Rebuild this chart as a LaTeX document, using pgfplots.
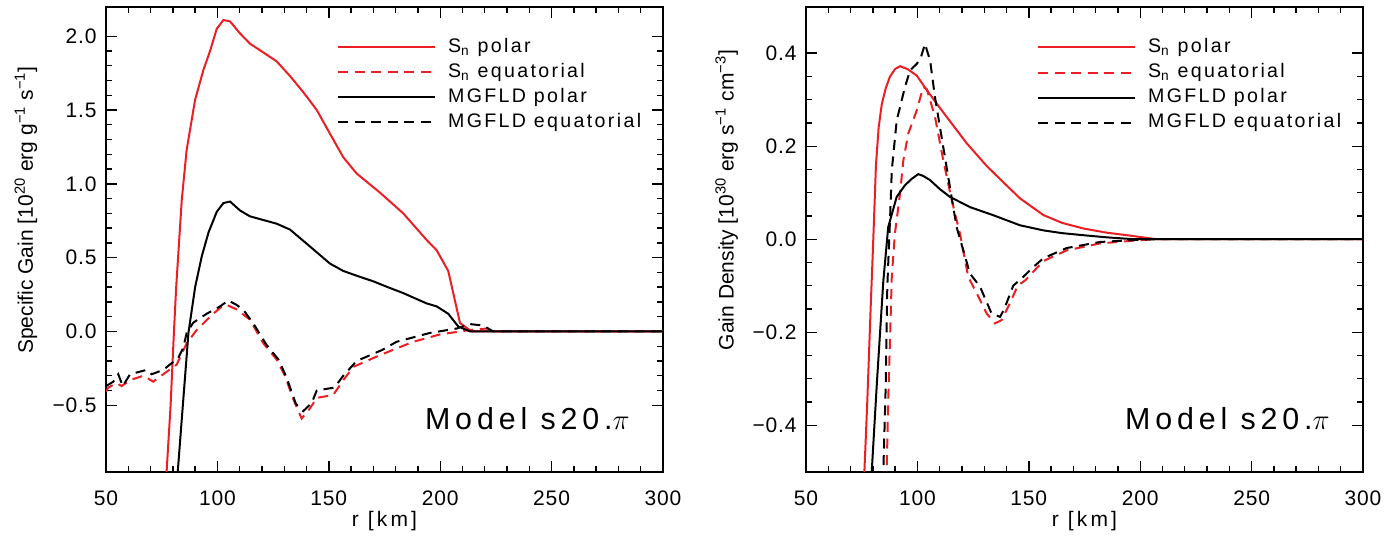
\documentclass[border=0pt]{standalone}
\usepackage{fontspec}
\setmainfont{Liberation Sans}
\newfontfamily\tickfam[LetterSpace=4]{Liberation Sans}
\newfontfamily\widefam[LetterSpace=12]{Liberation Sans}
\newfontfamily\modelfam[LetterSpace=16]{Liberation Sans}
\newfontfamily\xlabfam[LetterSpace=15]{Liberation Sans}
\usepackage{pgfplots}
\pgfplotsset{compat=1.18}
\definecolor{idlred}{RGB}{235,30,36}

\newcommand{\tickfont}{\tickfam\fontsize{10.5}{12}\selectfont}
\newcommand{\legfont}{\widefam\fontsize{9.8}{12}\selectfont}
\newcommand{\Sn}{S\textsubscript{n}}

\pgfplotsset{
  gainpanel/.style={
    scale only axis, width=278.5pt, height=232.5pt,
    anchor=south west,
    xmin=50, xmax=300,
    xtick={50,100,150,200,250,300},
    xticklabels={50,100,150,200,250,300},
    minor x tick num=4,
    tick align=inside, tick pos=both,
    major tick length=5.5pt, minor tick length=3pt,
    axis line style={line width=0.9pt},
    every tick/.style={black, line width=0.7pt},
    ticklabel style={font=\tickfont},
    xticklabel style={yshift=-6pt},
    yticklabel style={xshift=-1.2pt},
    xlabel={r [km]},
    xlabel style={font=\xlabfam\fontsize{10.5}{12}\selectfont,
      at={(rel axis cs:0.5,0)}, anchor=north, yshift=-16.5pt},
    legend style={at={(rel axis cs:0.414,0.94)}, anchor=north west,
      draw=none, fill=none, inner sep=0pt, row sep=0pt, column sep=5pt,
      font=\legfont, nodes={inner sep=1.25pt, text height=7.5pt, text depth=2.5pt}},
    legend cell align=left,
    legend image code/.code={\draw[##1] (0pt,0pt) -- (48.3pt,0pt);},
    every axis plot/.append style={line width=1pt},
  },
  dashedline/.style={dash pattern=on 5pt off 3.3pt},
}

\begin{document}
\begin{tikzpicture}
\path (0pt,0pt) rectangle (698pt,268.5pt);

% left panel: specific gain
\begin{axis}[gainpanel, at={(53pt,32.65pt)},
  ymin=-0.95, ymax=2.2,
  ytick={-0.5,0,0.5,1,1.5,2},
  yticklabels={−0.5,0.0,0.5,1.0,1.5,2.0},
  minor y tick num=4]
\addplot[idlred] coordinates {
 (76.5,-1.15)(77.2,-0.95)(79,-0.5)(80.5,0)(81.5,0.3)(84,0.89)(86.2,1.23)(90,1.57)
 (93.7,1.77)(96.7,1.90)(99.7,2.05)(102.7,2.11)(105.7,2.10)(110.1,2.02)(114.6,1.95)
 (120.6,1.89)(126.6,1.83)(132.6,1.73)(138.6,1.62)(144.6,1.50)(150.5,1.34)(156.5,1.18)
 (162.5,1.07)(173,0.94)(183.4,0.80)(193.9,0.62)(198.4,0.55)(203.6,0.41)(208.9,0.057)
 (214.1,0)(300,0)};
\addlegendentry{\Sn{} polar}
\addplot[idlred, dashedline] coordinates {
 (50,-0.41)(51,-0.38)(54.8,-0.35)(57,-0.37)(60.8,-0.33)(66.7,-0.30)(71.2,-0.34)
 (75.7,-0.29)(81.7,-0.225)(86.2,-0.08)(90.7,0.01)(96.7,0.10)(101.2,0.16)(104.1,0.18)
 (108.6,0.15)(114.6,0.08)(120.6,-0.08)(126.6,-0.19)(130.3,-0.30)(134.1,-0.46)
 (137.8,-0.59)(141.6,-0.52)(144.6,-0.45)(152,-0.43)(156.5,-0.33)(161,-0.24)
 (165.5,-0.21)(173,-0.16)(187.9,-0.07)(199.9,-0.02)(213.4,0.01)(220.9,0.02)
 (223.8,0)(300,0)};
\addlegendentry{\Sn{} equatorial}
\addplot[black] coordinates {
 (81.5,-1.2)(82.2,-0.95)(84.7,-0.46)(87,-0.01)(90,0.30)(93,0.51)(96,0.67)(99.7,0.81)
 (102.7,0.87)(105.7,0.88)(110.1,0.82)(114.6,0.78)(120.6,0.755)(126.6,0.73)(132.6,0.69)
 (141.6,0.575)(150.5,0.46)(156.5,0.41)(163,0.375)(169.9,0.34)(176.5,0.30)(183.4,0.26)
 (193.9,0.19)(198.4,0.17)(203.6,0.12)(208.1,0.034)(213.4,0)(300,0)};
\addlegendentry{MGFLD polar}
\addplot[black, dashedline] coordinates {
 (50,-0.37)(53.3,-0.34)(55.5,-0.29)(57.5,-0.37)(60.8,-0.29)(68.3,-0.26)(70.5,-0.29)
 (75.7,-0.26)(82.4,-0.18)(84.7,-0.11)(86.2,-0.01)(89.2,0.06)(95.2,0.12)(101.2,0.17)
 (104.9,0.21)(108.6,0.18)(111.6,0.147)(116,0.057)(122,-0.09)(127.4,-0.19)(131,-0.31)
 (135.2,-0.49)(138.5,-0.54)(142.3,-0.485)(144.6,-0.40)(152.5,-0.38)(156.5,-0.30)
 (162.5,-0.20)(174,-0.125)(180.4,-0.07)(195.4,-0.01)(207.4,0.02)(213.4,0.05)
 (219.3,0.04)(223.8,0)(300,0)};
\addlegendentry{MGFLD equatorial}
\node[anchor=base east, inner sep=0pt, font=\modelfam\fontsize{15.2}{18}\selectfont]
  at (rel axis cs:0.941,0.0897) {Model s20.$\pi$};
\end{axis}

% right panel: gain density
\begin{axis}[gainpanel, at={(403pt,32.65pt)},
  ymin=-0.5, ymax=0.5,
  ytick={-0.4,-0.2,0,0.2,0.4},
  yticklabels={−0.4,−0.2,0.0,0.2,0.4},
  minor y tick num=3]
\addplot[idlred] coordinates {
 (75.5,-0.7)(76.2,-0.5)(77.5,-0.35)(79,-0.15)(80.2,0)(81.4,0.16)(82.6,0.24)(84,0.29)
 (85.8,0.325)(87.7,0.35)(90,0.366)(92.2,0.372)(95.5,0.366)(99.7,0.352)(104,0.322)
 (110,0.283)(116,0.245)(122,0.207)(131,0.158)(138,0.125)(146,0.088)(156.5,0.052)
 (165,0.035)(174.5,0.023)(185,0.014)(194,0.0086)(207.4,0)(300,0)};
\addlegendentry{\Sn{} polar}
\addplot[idlred, dashedline] coordinates {
 (86,-0.7)(86.2,-0.5)(86.9,-0.346)(87.8,-0.2)(88.5,-0.081)(89.9,0.012)(92.2,0.098)
 (93.7,0.17)(95.9,0.227)(99.7,0.277)(102.6,0.327)(104.2,0.323)(107.9,0.263)(111.6,0.17)
 (115.4,0.084)(119.1,0.012)(122.8,-0.081)(127,-0.12)(131.1,-0.16)(134.8,-0.181)
 (137.8,-0.174)(141.8,-0.135)(145,-0.1)(148.5,-0.088)(152,-0.07)(156.5,-0.047)
 (167,-0.024)(182,-0.009)(200,-0.002)(207.4,0)(300,0)};
\addlegendentry{\Sn{} equatorial}
\addplot[black] coordinates {
 (79,-0.7)(79.5,-0.5)(81.8,-0.31)(84.7,-0.09)(86.9,0.026)(90.7,0.091)(94.4,0.116)
 (97.5,0.13)(100.4,0.14)(102.6,0.136)(105.7,0.127)(110,0.108)(114.6,0.091)(123.6,0.069)
 (134.1,0.0515)(146,0.030)(156.5,0.019)(165,0.013)(174.5,0.0086)(185,0.004)(197,0)
 (300,0)};
\addlegendentry{MGFLD polar}
\addplot[black, dashedline] coordinates {
 (84.5,-0.7)(84.7,-0.5)(85.8,-0.31)(86.5,-0.1)(87.7,0.041)(88.5,0.148)(90.7,0.255)
 (94.4,0.327)(96.7,0.363)(99.7,0.377)(101.5,0.39)(103.4,0.42)(105.7,0.384)(107.9,0.305)
 (111.6,0.198)(114.6,0.112)(117.6,0.026)(123.6,-0.074)(128.1,-0.102)(133.3,-0.16)
 (137.1,-0.167)(139,-0.15)(143,-0.1)(147.5,-0.081)(152,-0.06)(156.5,-0.041)(167,-0.019)
 (182,-0.006)(200,-0.001)(207.4,0)(300,0)};
\addlegendentry{MGFLD equatorial}
\node[anchor=base east, inner sep=0pt, font=\modelfam\fontsize{15.2}{18}\selectfont]
  at (rel axis cs:0.941,0.0897) {Model s20.$\pi$};
\end{axis}

% rotated y labels
\node[rotate=90, font=\fontsize{10.5}{12}\selectfont] at (13pt,163.5pt)
  {Specific Gain [10\textsuperscript{20} erg g\textsuperscript{−1} s\textsuperscript{−1}]};
\node[rotate=90, font=\fontsize{10.5}{12}\selectfont] at (363.3pt,168.5pt)
  {Gain Density [10\textsuperscript{30} erg s\textsuperscript{−1} cm\textsuperscript{−3}]};
\end{tikzpicture}
\end{document}
